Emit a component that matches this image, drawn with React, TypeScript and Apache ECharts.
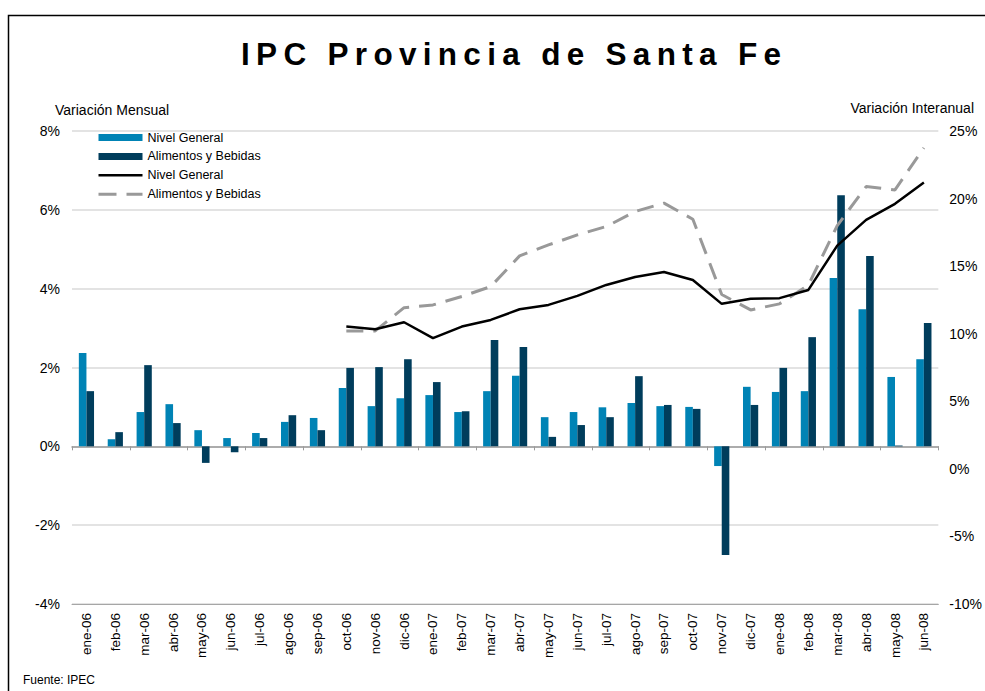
import React, { useEffect, useRef } from 'react';
import * as echarts from 'echarts';

const categories = [
  'ene-06', 'feb-06', 'mar-06', 'abr-06', 'may-06', 'jun-06', 'jul-06', 'ago-06', 'sep-06', 'oct-06', 'nov-06', 'dic-06',
  'ene-07', 'feb-07', 'mar-07', 'abr-07', 'may-07', 'jun-07', 'jul-07', 'ago-07', 'sep-07', 'oct-07', 'nov-07', 'dic-07',
  'ene-08', 'feb-08', 'mar-08', 'abr-08', 'may-08', 'jun-08',
];

const mensualNivelGeneral = [
  2.37, 0.18, 0.87, 1.07, 0.41, 0.21, 0.34, 0.62, 0.72, 1.48, 1.02, 1.22,
  1.3, 0.87, 1.4, 1.79, 0.74, 0.87, 0.99, 1.1, 1.02, 1.0, -0.5, 1.51,
  1.38, 1.4, 4.27, 3.48, 1.76, 2.21,
];

const mensualAlimentos = [
  1.4, 0.36, 2.06, 0.59, -0.42, -0.15, 0.21, 0.79, 0.41, 1.99, 2.01, 2.21,
  1.63, 0.89, 2.7, 2.52, 0.24, 0.54, 0.74, 1.78, 1.05, 0.95, -2.76, 1.05,
  1.99, 2.77, 6.37, 4.83, 0.02, 3.13,
];

const interanualNivelGeneral = [
  null, null, null, null, null, null, null, null, null, 10.53, 10.33, 10.85,
  9.67, 10.53, 11.02, 11.81, 12.13, 12.8, 13.61, 14.2, 14.57, 13.98, 12.21, 12.58,
  12.63, 13.24, 16.52, 18.42, 19.61, 21.19,
];

const interanualAlimentos = [
  null, null, null, null, null, null, null, null, null, 10.21, 10.21, 11.93,
  12.13, 12.75, 13.49, 15.76, 16.57, 17.31, 17.93, 19.04, 19.66, 18.47, 12.9, 11.76,
  12.21, 13.6, 18.0, 20.89, 20.64, 23.75,
];

const leftTicks = { min: -4, max: 8, interval: 2 };
const rightTicks = { min: -10, max: 25, interval: 5 };

const TITLE = 'IPC Provincia de Santa Fe';
const FONT = '"Liberation Sans", Arial, sans-serif';

export default function App() {
  const ref = useRef<HTMLDivElement>(null);

  useEffect(() => {
    const chart = echarts.init(ref.current!, null, { renderer: 'svg' });
    const spacedTitle = TITLE.split(' ')
      .map((w) => w.split('').join('\u2009'))
      .join('\u2009 \u2009');

    chart.setOption({
      animation: false,
      backgroundColor: '#ffffff',
      textStyle: { fontFamily: FONT, color: '#000' },
      grid: { left: 72, right: 45, top: 131, bottom: 87, containLabel: false },
      legend: {
        orient: 'vertical',
        left: 97,
        top: 130.5,
        padding: 0,
        itemWidth: 44,
        itemHeight: 7,
        itemGap: 4.9,
        textStyle: { fontFamily: FONT, fontSize: 12.5, color: '#000', lineHeight: 14 },
        formatter: (name: string) => name.replace(' (interanual)', ''),
        data: [
          { name: 'Nivel General', icon: 'rect' },
          { name: 'Alimentos y Bebidas', icon: 'rect' },
          {
            name: 'Nivel General (interanual)',
            itemStyle: { opacity: 0 },
            lineStyle: { color: '#000', width: 2.5, type: 'solid' },
          },
          {
            name: 'Alimentos y Bebidas (interanual)',
            itemStyle: { opacity: 0 },
            lineStyle: { color: '#999999', width: 3, type: [18, 10] },
          },
        ],
        selectedMode: false,
      },
      xAxis: [
        {
          type: 'category',
          data: categories,
          position: 'bottom',
          axisLine: { onZero: false, lineStyle: { color: '#a6a6a6', width: 1 } },
          axisTick: { show: false },
          axisLabel: {
            interval: 0,
            rotate: 90,
            margin: 9,
            fontSize: 13.5,
            color: '#000',
            fontFamily: FONT,
          },
          splitLine: { show: false },
        },
        {
          type: 'category',
          data: categories,
          position: 'bottom',
          axisLine: { onZero: true, onZeroAxisIndex: 0, lineStyle: { color: '#9a9a9a', width: 1.5 } },
          axisTick: { show: true, length: 4, lineStyle: { color: '#9a9a9a', width: 1 } },
          axisLabel: { show: false },
          splitLine: { show: false },
        },
      ],
      yAxis: [
        {
          type: 'value',
          min: leftTicks.min,
          max: leftTicks.max,
          interval: leftTicks.interval,
          axisLine: { show: false },
          axisTick: { show: false },
          axisLabel: { formatter: '{value}%', fontSize: 14, color: '#000', margin: 12, fontFamily: FONT },
          splitLine: { show: true, lineStyle: { color: '#e3e3e3', width: 2 } },
        },
        {
          type: 'value',
          min: rightTicks.min,
          max: rightTicks.max,
          interval: rightTicks.interval,
          position: 'right',
          axisLine: { show: false },
          axisTick: { show: false },
          axisLabel: { formatter: '{value}%', fontSize: 14, color: '#000', margin: 11, fontFamily: FONT },
          splitLine: { show: false },
        },
      ],
      series: [
        {
          name: 'Nivel General',
          type: 'bar',
          data: mensualNivelGeneral,
          barWidth: 7.6,
          barGap: '0%',
          itemStyle: { color: '#0083b5' },
        },
        {
          name: 'Alimentos y Bebidas',
          type: 'bar',
          data: mensualAlimentos,
          barWidth: 7.6,
          barGap: '0%',
          itemStyle: { color: '#003d5c' },
        },
        {
          name: 'Nivel General (interanual)',
          type: 'line',
          yAxisIndex: 1,
          data: interanualNivelGeneral,
          symbol: 'none',
          itemStyle: { color: '#000' },
          lineStyle: { color: '#000', width: 2.5 },
          z: 5,
        },
        {
          name: 'Alimentos y Bebidas (interanual)',
          type: 'line',
          yAxisIndex: 1,
          data: interanualAlimentos,
          symbol: 'none',
          itemStyle: { color: '#999999' },
          lineStyle: { color: '#999999', width: 3, type: [17, 10] },
          z: 4,
        },
      ],
      graphic: [
        {
          type: 'rect',
          silent: true,
          shape: { x: 8.5, y: 15.5, width: 1200, height: 1200 },
          style: { fill: 'none', stroke: '#000', lineWidth: 1.5 },
        },
        {
          type: 'text',
          silent: true,
          x: 511,
          y: 54,
          style: {
            text: spacedTitle,
            fontFamily: FONT,
            fontSize: 31.5,
            fontWeight: 'bold',
            fill: '#000',
            align: 'center',
            verticalAlign: 'middle',
          },
        },
        {
          type: 'text',
          silent: true,
          x: 55,
          y: 110,
          style: {
            text: 'Variación Mensual',
            fontFamily: FONT,
            fontSize: 14,
            fill: '#000',
            align: 'left',
            verticalAlign: 'middle',
          },
        },
        {
          type: 'text',
          silent: true,
          x: 974,
          y: 108,
          style: {
            text: 'Variación Interanual',
            fontFamily: FONT,
            fontSize: 14,
            fill: '#000',
            align: 'right',
            verticalAlign: 'middle',
          },
        },
        {
          type: 'text',
          silent: true,
          x: 23,
          y: 680,
          style: {
            text: 'Fuente: IPEC',
            fontFamily: FONT,
            fontSize: 12,
            fill: '#000',
            align: 'left',
            verticalAlign: 'middle',
          },
        },
      ],
    });

    return () => chart.dispose();
  }, []);

  return (
    <div
      ref={ref}
      style={{ position: 'absolute', left: 0, top: 0, width: 985, height: 691, background: '#fff' }}
    />
  );
}
